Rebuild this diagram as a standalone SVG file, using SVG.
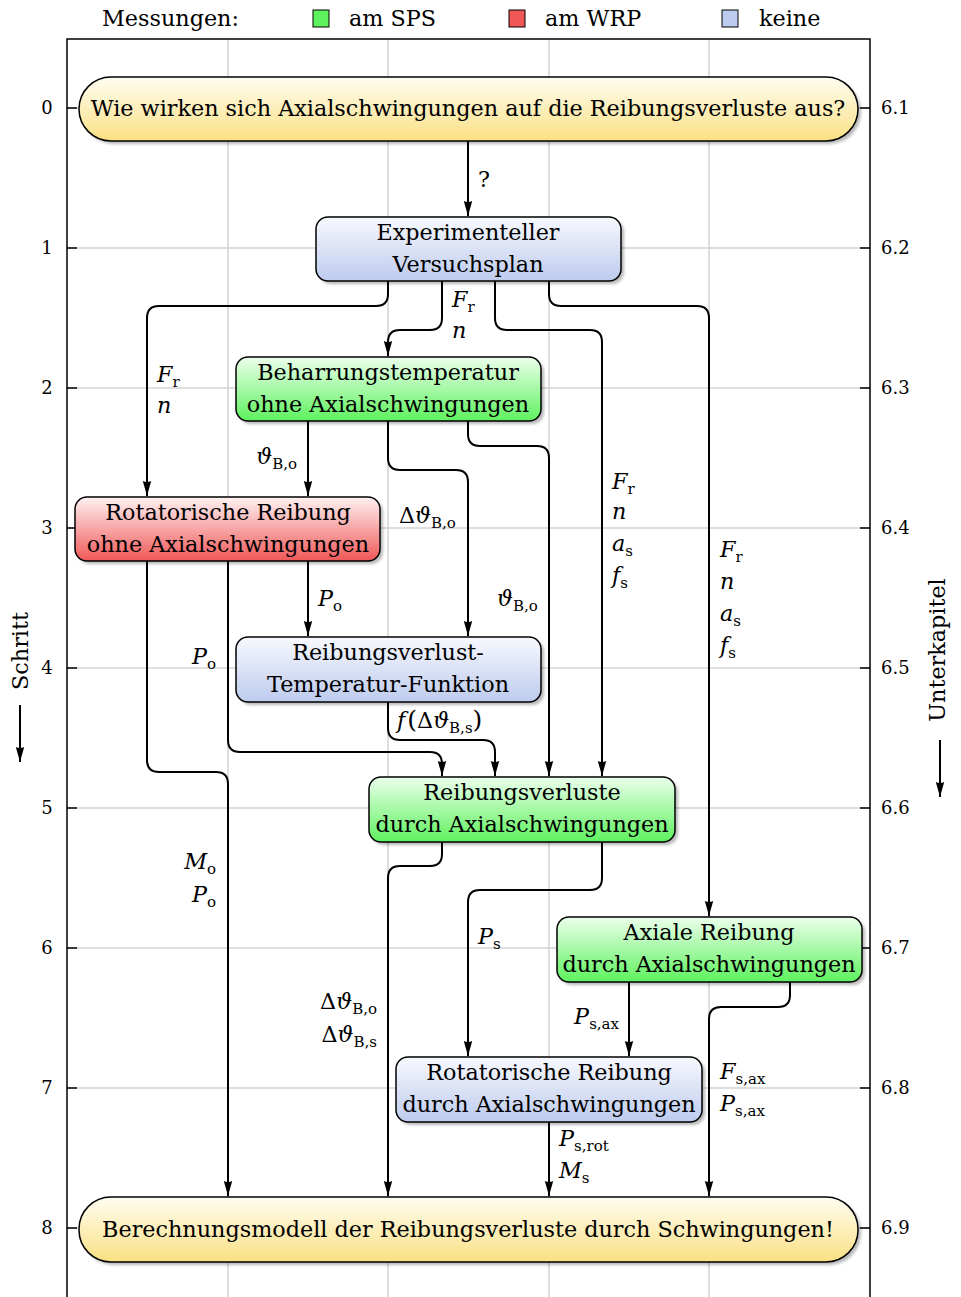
<svg xmlns="http://www.w3.org/2000/svg" width="961" height="1297" viewBox="0 0 961 1297">
<defs>
<linearGradient id="gY" x1="0" y1="0" x2="0" y2="1"><stop offset="0" stop-color="#fffdf2"/><stop offset="1" stop-color="#fae083"/></linearGradient>
<linearGradient id="gB" x1="0" y1="0" x2="0" y2="1"><stop offset="0" stop-color="#f8f9fe"/><stop offset="1" stop-color="#bdcbee"/></linearGradient>
<linearGradient id="gG" x1="0" y1="0" x2="0" y2="1"><stop offset="0" stop-color="#ecffec"/><stop offset="1" stop-color="#5ef25e"/></linearGradient>
<linearGradient id="gR" x1="0" y1="0" x2="0" y2="1"><stop offset="0" stop-color="#fff2f2"/><stop offset="1" stop-color="#f05858"/></linearGradient>
<filter id="sh" x="-10%" y="-20%" width="120%" height="150%"><feGaussianBlur stdDeviation="1.6"/></filter>
<marker id="ar" markerUnits="userSpaceOnUse" markerWidth="16" markerHeight="10" refX="15" refY="5" orient="auto" overflow="visible">
<path d="M0,0.8 L15,5 L0,9.2 Q2,5 0,0.8 Z" fill="#000"/>
</marker>
</defs>
<style>
text{font-family:"DejaVu Serif","Liberation Serif",serif;fill:#000}
.t{font-size:22.3px;text-anchor:middle}
.m{font-size:22.3px}
.e{text-anchor:end}
.i{font-style:italic}
.s{font-size:15px;font-style:normal}
.ax{font-size:18px}
.grid{stroke:#d4d4d4;stroke-width:1.5;fill:none}
.frame{stroke:#000;stroke-width:1.5;fill:none}
.c path{stroke:#000;stroke-width:2;fill:none;marker-end:url(#ar)}
.bd{stroke:#000;stroke-width:1.5}
.shd{fill:#000;opacity:0.28;filter:url(#sh)}
</style>
<rect width="961" height="1297" fill="#fff"/>

<!-- legend -->
<g id="legend">
<text class="m" x="102" y="26">Messungen:</text>
<rect x="313" y="10" width="16" height="17" fill="#5ef25e" stroke="#000" stroke-width="1"/>
<text class="m" x="349" y="26">am SPS</text>
<rect x="509" y="10" width="16" height="17" fill="#f05858" stroke="#000" stroke-width="1"/>
<text class="m" x="545" y="26">am WRP</text>
<rect x="722" y="10" width="16" height="17" fill="#bdcbee" stroke="#000" stroke-width="1"/>
<text class="m" x="759" y="26">keine</text>
</g>

<!-- grid and frame -->
<g id="grid">
<path class="grid" d="M228,40V1297M388,40V1297M549,40V1297M709,40V1297"/>
<path class="grid" d="M67,108H870M67,248H870M67,388H870M67,528H870M67,668H870M67,808H870M67,948H870M67,1088H870M67,1228H870"/>
<path class="frame" d="M67,1297V39H870V1297"/>
<path class="frame" d="M67,108h10M67,248h10M67,388h10M67,528h10M67,668h10M67,808h10M67,948h10M67,1088h10M67,1228h10"/>
<path class="frame" d="M870,108h-10M870,248h-10M870,388h-10M870,528h-10M870,668h-10M870,808h-10M870,948h-10M870,1088h-10M870,1228h-10"/>
<g class="ax" text-anchor="middle">
<text x="47" y="114">0</text><text x="47" y="254">1</text><text x="47" y="394">2</text><text x="47" y="534">3</text><text x="47" y="674">4</text><text x="47" y="814">5</text><text x="47" y="954">6</text><text x="47" y="1094">7</text><text x="47" y="1234">8</text>
</g>
<g class="ax">
<text x="881" y="114">6.1</text><text x="881" y="254">6.2</text><text x="881" y="394">6.3</text><text x="881" y="534">6.4</text><text x="881" y="674">6.5</text><text x="881" y="814">6.6</text><text x="881" y="954">6.7</text><text x="881" y="1094">6.8</text><text x="881" y="1234">6.9</text>
</g>
<text class="m" text-anchor="middle" transform="translate(28,651) rotate(-90)">Schritt</text>
<text class="m" text-anchor="middle" transform="translate(945,650) rotate(-90)">Unterkapitel</text>
<g class="c"><path d="M20,705V762"/><path d="M940,740V797"/></g>
</g>

<!-- connectors -->
<g id="connectors" class="c">
<path d="M468,141V216"/>
<path d="M388,281V294Q388,306 376,306H159Q147,306 147,318V496"/>
<path d="M442,281V318Q442,330 430,330H400Q388,330 388,342V356"/>
<path d="M495,281V318Q495,330 507,330H590Q602,330 602,342V776"/>
<path d="M549,281V294Q549,306 561,306H697Q709,306 709,318V916"/>
<path d="M308,421V496"/>
<path d="M388,421V458Q388,470 400,470H456Q468,470 468,482V636"/>
<path d="M468,421V434Q468,446 480,446H537Q549,446 549,458V776"/>
<path d="M308,561V636"/>
<path d="M228,561V740Q228,752 240,752H430Q442,752 442,764V776"/>
<path d="M147,561V760Q147,772 159,772H216Q228,772 228,784V1196"/>
<path d="M388,702V728Q388,740 400,740H483Q495,740 495,752V776"/>
<path d="M442,842V854Q442,866 430,866H400Q388,866 388,878V1196"/>
<path d="M602,842V878Q602,890 590,890H480Q468,890 468,902V1056"/>
<path d="M629,982V1056"/>
<path d="M790,982V995Q790,1007 778,1007H721Q709,1007 709,1019V1196"/>
<path d="M549,1122V1196"/>
</g>

<!-- connector labels -->
<g id="labels" class="m">
<text x="478" y="187">?</text>
<text x="452" y="307"><tspan class="i">F</tspan><tspan class="s" dy="5">r</tspan></text>
<text x="452" y="338" class="i">n</text>
<text x="157" y="382"><tspan class="i">F</tspan><tspan class="s" dy="5">r</tspan></text>
<text x="157" y="413" class="i">n</text>
<text x="612" y="489"><tspan class="i">F</tspan><tspan class="s" dy="5">r</tspan></text>
<text x="612" y="519" class="i">n</text>
<text x="612" y="551"><tspan class="i">a</tspan><tspan class="s" dy="5">s</tspan></text>
<text x="612" y="583"><tspan class="i">f</tspan><tspan class="s" dy="5">s</tspan></text>
<text x="720" y="557"><tspan class="i">F</tspan><tspan class="s" dy="5">r</tspan></text>
<text x="720" y="589" class="i">n</text>
<text x="720" y="621"><tspan class="i">a</tspan><tspan class="s" dy="5">s</tspan></text>
<text x="720" y="653"><tspan class="i">f</tspan><tspan class="s" dy="5">s</tspan></text>
<text x="297" y="464" class="e"><tspan class="i">ϑ</tspan><tspan class="s" dy="5">B,o</tspan></text>
<text x="399" y="523"><tspan>Δ</tspan><tspan class="i">ϑ</tspan><tspan class="s" dy="5">B,o</tspan></text>
<text x="497" y="606"><tspan class="i">ϑ</tspan><tspan class="s" dy="5">B,o</tspan></text>
<text x="318" y="606"><tspan class="i">P</tspan><tspan class="s" dy="5">o</tspan></text>
<text x="216" y="664" class="e"><tspan class="i">P</tspan><tspan class="s" dy="5">o</tspan></text>
<text x="216" y="869" class="e"><tspan class="i">M</tspan><tspan class="s" dy="5">o</tspan></text>
<text x="216" y="902" class="e"><tspan class="i">P</tspan><tspan class="s" dy="5">o</tspan></text>
<text x="397" y="728"><tspan class="i">f</tspan><tspan dx="2" font-size="25">(</tspan><tspan>Δ</tspan><tspan class="i">ϑ</tspan><tspan class="s" dy="5">B,s</tspan><tspan dy="-5" font-size="25">)</tspan></text>
<text x="377" y="1009" class="e"><tspan>Δ</tspan><tspan class="i">ϑ</tspan><tspan class="s" dy="5">B,o</tspan></text>
<text x="377" y="1042" class="e"><tspan>Δ</tspan><tspan class="i">ϑ</tspan><tspan class="s" dy="5">B,s</tspan></text>
<text x="478" y="944"><tspan class="i">P</tspan><tspan class="s" dy="5">s</tspan></text>
<text x="619" y="1024" class="e"><tspan class="i">P</tspan><tspan class="s" dy="5">s,ax</tspan></text>
<text x="720" y="1079"><tspan class="i">F</tspan><tspan class="s" dy="5">s,ax</tspan></text>
<text x="720" y="1111"><tspan class="i">P</tspan><tspan class="s" dy="5">s,ax</tspan></text>
<text x="559" y="1146"><tspan class="i">P</tspan><tspan class="s" dy="5">s,rot</tspan></text>
<text x="559" y="1178"><tspan class="i">M</tspan><tspan class="s" dy="5">s</tspan></text>
</g>

<!-- nodes -->
<g id="n0">
<rect class="shd" x="82" y="80" width="779" height="64" rx="32"/>
<rect class="bd" x="79" y="77" width="779" height="64" rx="32" fill="url(#gY)"/>
<text class="t" x="468" y="116">Wie wirken sich Axialschwingungen auf die Reibungsverluste aus?</text>
</g>
<g id="n1">
<rect class="shd" x="319" y="220" width="305" height="64" rx="12"/>
<rect class="bd" x="316" y="217" width="305" height="64" rx="12" fill="url(#gB)"/>
<text class="t" x="468" y="240">Experimenteller</text>
<text class="t" x="468" y="272">Versuchsplan</text>
</g>
<g id="n2">
<rect class="shd" x="239" y="360" width="305" height="64" rx="12"/>
<rect class="bd" x="236" y="357" width="305" height="64" rx="12" fill="url(#gG)"/>
<text class="t" x="388" y="380">Beharrungstemperatur</text>
<text class="t" x="388" y="412">ohne Axialschwingungen</text>
</g>
<g id="n3">
<rect class="shd" x="78" y="500" width="305" height="64" rx="12"/>
<rect class="bd" x="75" y="497" width="305" height="64" rx="12" fill="url(#gR)"/>
<text class="t" x="228" y="520">Rotatorische Reibung</text>
<text class="t" x="228" y="552">ohne Axialschwingungen</text>
</g>
<g id="n4">
<rect class="shd" x="239" y="640" width="305" height="65" rx="12"/>
<rect class="bd" x="236" y="637" width="305" height="65" rx="12" fill="url(#gB)"/>
<text class="t" x="388" y="660">Reibungsverlust-</text>
<text class="t" x="388" y="692">Temperatur-Funktion</text>
</g>
<g id="n5">
<rect class="shd" x="372" y="780" width="306" height="65" rx="12"/>
<rect class="bd" x="369" y="777" width="306" height="65" rx="12" fill="url(#gG)"/>
<text class="t" x="522" y="800">Reibungsverluste</text>
<text class="t" x="522" y="832">durch Axialschwingungen</text>
</g>
<g id="n6">
<rect class="shd" x="560" y="920" width="305" height="65" rx="12"/>
<rect class="bd" x="557" y="917" width="305" height="65" rx="12" fill="url(#gG)"/>
<text class="t" x="709" y="940">Axiale Reibung</text>
<text class="t" x="709" y="972">durch Axialschwingungen</text>
</g>
<g id="n7">
<rect class="shd" x="399" y="1060" width="306" height="65" rx="12"/>
<rect class="bd" x="396" y="1057" width="306" height="65" rx="12" fill="url(#gB)"/>
<text class="t" x="549" y="1080">Rotatorische Reibung</text>
<text class="t" x="549" y="1112">durch Axialschwingungen</text>
</g>
<g id="n8">
<rect class="shd" x="82" y="1200" width="779" height="65" rx="32"/>
<rect class="bd" x="79" y="1197" width="779" height="65" rx="32" fill="url(#gY)"/>
<text class="t" x="468" y="1237">Berechnungsmodell der Reibungsverluste durch Schwingungen!</text>
</g>
</svg>
